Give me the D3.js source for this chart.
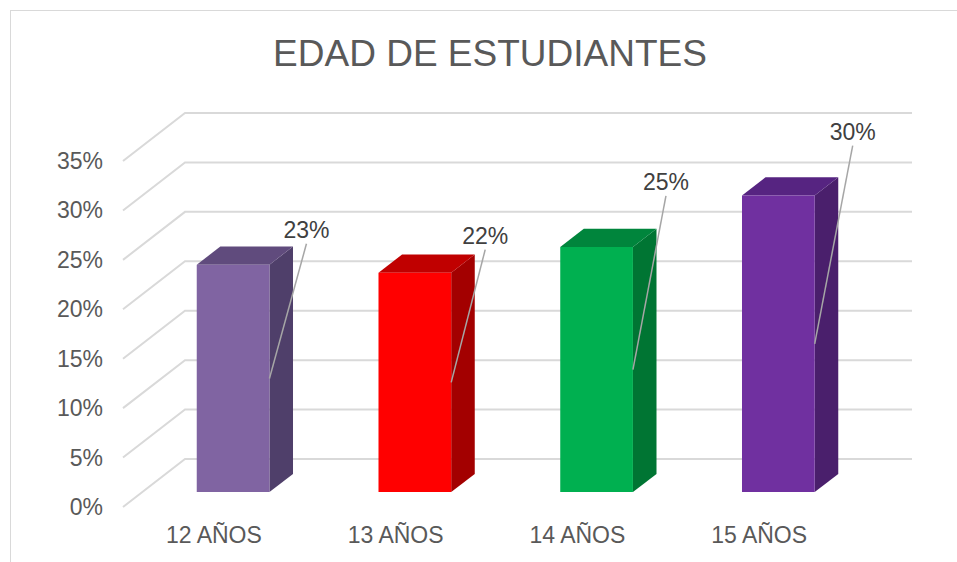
<!DOCTYPE html>
<html>
<head>
<meta charset="utf-8">
<script src="https://cdn.jsdelivr.net/npm/d3@7"></script>
<style>
  html, body { margin: 0; padding: 0; background: #fff; }
  text { font-family: Arial, "Liberation Sans", sans-serif; }
</style>
</head>
<body>
<div id="chart"></div>
<script>
// Data
const categories = ['12 AÑOS', '13 AÑOS', '14 AÑOS', '15 AÑOS'];
const values = [0.23, 0.222, 0.248, 0.30];
const valueLabels = ['23%', '22%', '25%', '30%'];
const yTicks = [0, 0.05, 0.10, 0.15, 0.20, 0.25, 0.30, 0.35];

// Face colours per bar: front, top, side
const barColors = [
  { front: '#8064a2', top: '#604b7d', side: '#4f3f6a' },
  { front: '#ff0000', top: '#c00000', side: '#a30000' },
  { front: '#00b050', top: '#00853c', side: '#007533' },
  { front: '#7030a0', top: '#562481', side: '#4a1f6c' }
];
// Manual label placement (relative to bar's top-right-front corner)
const labelNudge = [[37, -27], [34, -29], [33, -57], [38, -56]];

// Layout
const W = 957, H = 562;
const FRONT_L = 123, FRONT_R = 850;
const Y0 = 507, Y_TOP = 161;
const DEPTH = { dx: 62, dy: -48 };
const BAR_D0 = 0.31, BAR_D1 = 0.69;
const TEXT = '#595959', GRID = '#d9d9d9';

const svg = d3.select('#chart').append('svg')
  .attr('width', W).attr('height', H);

// Chart frame
svg.append('rect')
  .attr('x', 10.5).attr('y', 10.5)
  .attr('width', W).attr('height', H)
  .attr('fill', 'none').attr('stroke', GRID).attr('stroke-width', 1);

const x = d3.scaleBand().domain(categories).range([FRONT_L, FRONT_R]).paddingInner(0).paddingOuter(0);
const y = d3.scaleLinear().domain([0, 0.35]).range([Y0, Y_TOP]);

// project a front-plane point back by depth fraction d
const P = (px, py, d) => [px + DEPTH.dx * d, py + DEPTH.dy * d];

// Gridlines: side wall diagonals + back wall
const grid = svg.append('g');
yTicks.forEach(t => {
  const yy = y(t);
  const a = P(FRONT_L, yy, 0), b = P(FRONT_L, yy, 1), c = P(FRONT_R, yy, 1);
  grid.append('polyline')
    .attr('points', [a, b, c].map(p => p.join(',')).join(' '))
    .attr('fill', 'none').attr('stroke', GRID).attr('stroke-width', 2);
});

// Y tick labels
svg.append('g').selectAll('text').data(yTicks).enter().append('text')
  .attr('x', 103).attr('y', d => y(d))
  .attr('dy', '0.35em')
  .attr('text-anchor', 'end')
  .attr('font-size', 23).attr('fill', TEXT)
  .text(d3.format('.0%'));

// Bars
const barW = x.bandwidth() * 0.4;
const bars = svg.append('g');
const corners = [];
categories.forEach((c, i) => {
  const cx = x(c) + x.bandwidth() / 2;
  const xl = cx - barW / 2, xr = cx + barW / 2;
  const yb = y(0), yt = y(values[i]);
  const f = d => [P(xl, yt, d), P(xr, yt, d), P(xr, yb, d), P(xl, yb, d)];
  const fr = f(BAR_D0), bk = f(BAR_D1);
  const col = barColors[i];
  const poly = (pts, fill) => bars.append('polygon')
    .attr('points', pts.map(p => p.join(',')).join(' '))
    .attr('fill', fill);
  // side face
  poly([fr[1], bk[1], bk[2], fr[2]], col.side);
  // top face
  poly([fr[0], bk[0], bk[1], fr[1]], col.top);
  // front face
  poly(fr, col.front);
  corners.push({ top: fr[1], mid: [fr[1][0], (fr[1][1] + fr[2][1]) / 2] });
});

// Data labels with leader lines
const lbl = svg.append('g');
corners.forEach((k, i) => {
  const lx = k.top[0] + labelNudge[i][0];
  const ly = k.top[1] + labelNudge[i][1];
  lbl.append('line')
    .attr('x1', lx).attr('y1', ly + 6)
    .attr('x2', k.mid[0]).attr('y2', k.mid[1])
    .attr('stroke', '#a6a6a6').attr('stroke-width', 1.5);
  lbl.append('text')
    .attr('x', lx).attr('y', ly)
    .attr('text-anchor', 'middle')
    .attr('font-size', 23).attr('fill', '#404040')
    .text(valueLabels[i]);
});

// Category labels on front plane
svg.append('g').selectAll('text').data(categories).enter().append('text')
  .attr('x', d => x(d) + x.bandwidth() / 2)
  .attr('y', 543)
  .attr('text-anchor', 'middle')
  .attr('font-size', 23).attr('fill', TEXT)
  .text(d => d);

// Title
svg.append('text')
  .attr('x', 490).attr('y', 66)
  .attr('text-anchor', 'middle')
  .attr('font-size', 37).attr('fill', TEXT)
  .text('EDAD DE ESTUDIANTES');
</script>
</body>
</html>
